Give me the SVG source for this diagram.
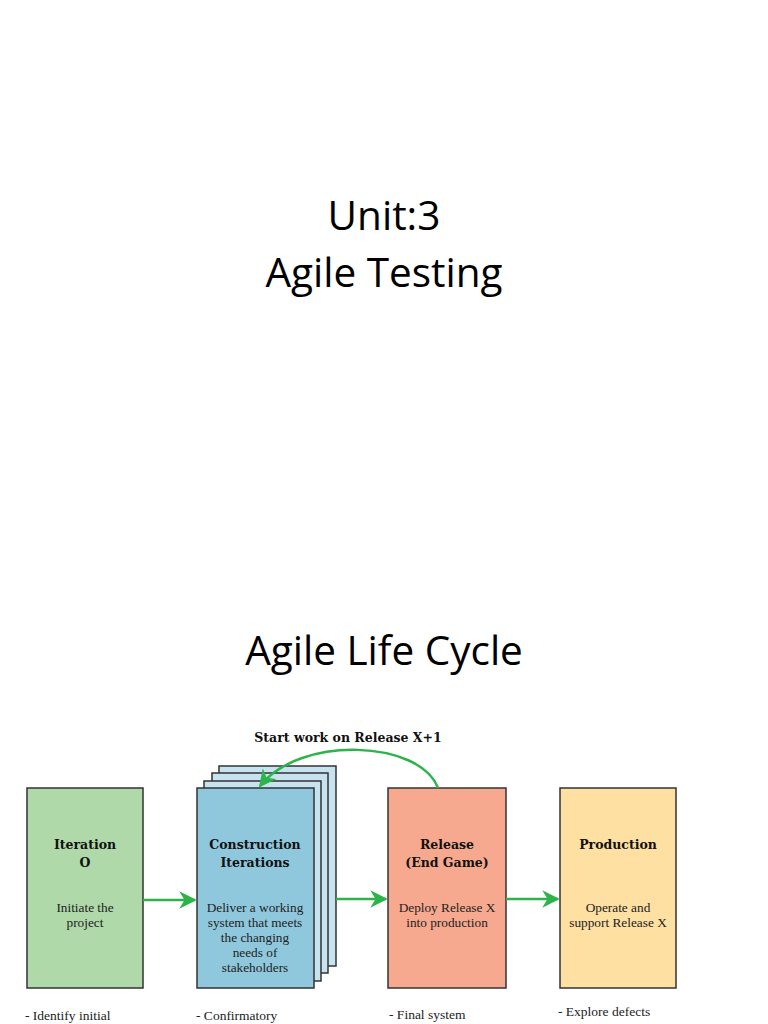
<svg xmlns="http://www.w3.org/2000/svg" width="768" height="1024" viewBox="0 0 768 1024">
<defs>
<style>
.title{font-family:"Open Sans","Liberation Sans",sans-serif;font-size:40.5px;fill:#000;text-anchor:middle}
.box{stroke:#333;stroke-width:1.5}
.hd{font-family:"DejaVu Serif","Liberation Serif",serif;font-weight:bold;font-size:12.5px;fill:#111;text-anchor:middle}
.bd{font-family:"Liberation Serif","DejaVu Serif",serif;font-size:13.3px;fill:#222;text-anchor:middle}
.nt{font-family:"Liberation Serif","DejaVu Serif",serif;font-size:13.5px;fill:#222}
.conn{stroke:#2cb34a;stroke-width:2.5;fill:none}
</style>
<marker id="ah" viewBox="0 0 10 10" refX="9" refY="5" markerWidth="7" markerHeight="7" orient="auto" markerUnits="strokeWidth">
<path d="M0,0 L10,5 L0,10 L3,5 Z" fill="#2cb34a"/>
</marker>
</defs>
<rect width="768" height="1024" fill="#fff"/>
<text class="title" x="384" y="230">Unit:3</text>
<text class="title" x="384" y="287">Agile Testing</text>
<text class="title" x="384" y="665">Agile Life Cycle</text>
<text class="hd" x="348" y="742">Start work on Release X+1</text>

<g id="iteration0">
<rect class="box" x="27" y="788" width="116" height="200" fill="#b0d9aa"/>
<text class="hd" x="85" y="849">Iteration</text>
<text class="hd" x="85" y="867">O</text>
<text class="bd" x="85" y="912">Initiate the</text>
<text class="bd" x="85" y="927">project</text>
</g>
<g id="construction">
<rect class="box" x="219" y="766" width="117" height="200" fill="#c6e3ef"/>
<rect class="box" x="212" y="773" width="116" height="200" fill="#c6e3ef"/>
<rect class="box" x="204" y="781" width="117" height="200" fill="#c6e3ef"/>
<rect class="box" x="197" y="788" width="117" height="200" fill="#8fc8dc"/>
<text class="hd" x="255" y="849">Construction</text>
<text class="hd" x="255" y="867">Iterations</text>
<text class="bd" x="255" y="912">Deliver a working</text>
<text class="bd" x="255" y="927">system that meets</text>
<text class="bd" x="255" y="942">the changing</text>
<text class="bd" x="255" y="957">needs of</text>
<text class="bd" x="255" y="972">stakeholders</text>
</g>
<g id="release">
<rect class="box" x="388" y="788" width="118" height="200" fill="#f6a98e"/>
<text class="hd" x="447" y="849">Release</text>
<text class="hd" x="447" y="867">(End Game)</text>
<text class="bd" x="447" y="912">Deploy Release X</text>
<text class="bd" x="447" y="927">into production</text>
</g>
<g id="production">
<rect class="box" x="560" y="788" width="116" height="200" fill="#fde0a2"/>
<text class="hd" x="618" y="849">Production</text>
<text class="bd" x="618" y="912">Operate and</text>
<text class="bd" x="618" y="927">support Release X</text>
</g>
<g id="connectors">
<line class="conn" x1="143" y1="900" x2="195" y2="900" marker-end="url(#ah)"/>
<line class="conn" x1="336" y1="899" x2="386" y2="899" marker-end="url(#ah)"/>
<line class="conn" x1="506" y1="899" x2="558" y2="899" marker-end="url(#ah)"/>
<path class="conn" d="M438,788 C420,740 300,735 260,786" marker-end="url(#ah)"/>
</g>
<text class="nt" x="25" y="1020">- Identify initial</text>
<text class="nt" x="196" y="1020">- Confirmatory</text>
<text class="nt" x="389" y="1019">- Final system</text>
<text class="nt" x="558" y="1016">- Explore defects</text>
</svg>
